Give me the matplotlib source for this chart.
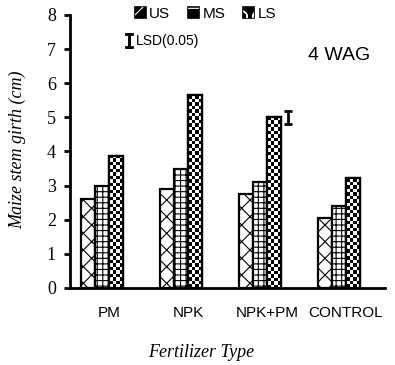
import numpy as np
import matplotlib
matplotlib.use('Agg')
import matplotlib.pyplot as plt
import matplotlib.patches as mpatches
from matplotlib.lines import Line2D

# Daten
categories = ['PM', 'NPK', 'NPK+PM', 'CONTROL']
series = ['US', 'MS', 'LS']
us = [2.6, 2.9, 2.75, 2.05]
ms = [3.0, 3.5, 3.1, 2.4]
ls = [3.87, 5.65, 5.0, 3.22]
lsd = 0.4          # LSD(0.05), an NPK+PM gezeigt
lsd_group = 2

plt.rcParams['hatch.linewidth'] = 0.8

fig = plt.figure(figsize=(3.95, 3.65), dpi=100)
ax = fig.add_axes([0.177, 0.211, 0.798, 0.748])

x = np.arange(len(categories))
w = 0.178
offsets = [-1.5 * w, -0.5 * w, 0.5 * w]

# US und MS mit Schraffur
bars_us = ax.bar(x + offsets[0], us, w, facecolor='white', edgecolor='black',
                 linewidth=1.6, hatch='xx', zorder=3)
bars_ms = ax.bar(x + offsets[1], ms, w, facecolor='white', edgecolor='black',
                 linewidth=1.6, hatch='+++', zorder=3)
bars_ls = ax.bar(x + offsets[2], ls, w, facecolor='white', edgecolor='black',
                 linewidth=1.6, zorder=3)

ax.set_xlim(-0.5, 3.5)
ax.set_ylim(0, 8)

# Schachbrettmuster fuer LS
px_per_unit = (ax.transData.transform((0, 1))[1] - ax.transData.transform((0, 0))[1])
for b in bars_ls:
    x0 = b.get_x()
    h = b.get_height()
    n_cols = 4
    n_rows = int(round(h * px_per_unit / 3.5))
    checker = (np.add.outer(np.arange(n_rows), np.arange(n_cols)) % 2).astype(float)
    ax.imshow(checker, cmap='gray', extent=[x0, x0 + w, 0, h], interpolation='nearest',
              aspect='auto', zorder=3.5, vmin=0, vmax=1)
    ax.add_patch(mpatches.Rectangle((x0, 0), w, h, facecolor='none', edgecolor='black',
                                    linewidth=1.6, zorder=4))

ax.set_xlim(-0.5, 3.5)
ax.set_ylim(0, 8)

# LSD-Balken
ax.errorbar(lsd_group + 1.5 * w, ls[lsd_group], yerr=lsd / 2, fmt='none', ecolor='black',
            elinewidth=2, capsize=3, capthick=2, zorder=5)

# Achsen
for s in ['top', 'right']:
    ax.spines[s].set_visible(False)
for s in ['left', 'bottom']:
    ax.spines[s].set_linewidth(2)
ax.set_yticks(range(0, 9))
ax.set_yticklabels([str(i) for i in range(0, 9)], family='Liberation Serif', fontsize=13)
ax.tick_params(axis='y', direction='out', length=4, width=2, pad=6)
ax.set_xticks(x)
ax.set_xticklabels(categories, family='Liberation Sans', fontsize=11)
ax.tick_params(axis='x', length=0, pad=13)

fig.text(0.045, 0.59, 'Maize stem girth (cm)', rotation=90, ha='center', va='center',
         family='Liberation Serif', style='italic', fontsize=13)
fig.text(0.51, 0.035, 'Fertilizer Type', ha='center', va='center',
         family='Liberation Serif', style='italic', fontsize=13)

# Legende: schwarze Kaestchen mit weissem Muster
def icon(h):
    base = mpatches.Patch(facecolor='black', edgecolor='black', linewidth=1.2)
    top = mpatches.Patch(facecolor='none', edgecolor='white', hatch=h, linewidth=0)
    return (base, top)

handles = [icon('//'), icon('-'), icon('O')]
fig.legend(handles, series, loc='center', bbox_to_anchor=(0.52, 0.963), ncol=3,
           frameon=False, handlelength=0.75, handleheight=0.75, handletextpad=0.2,
           columnspacing=1.15, prop={'family': 'Liberation Sans', 'size': 11})

fig.add_artist(Line2D([0.3265, 0.3265], [0.872, 0.906], color='black', lw=2.2))
fig.add_artist(Line2D([0.319, 0.334], [0.872, 0.872], color='black', lw=2))
fig.add_artist(Line2D([0.319, 0.334], [0.906, 0.906], color='black', lw=2))
fig.text(0.343, 0.889, 'LSD(0.05)', ha='left', va='center', family='Liberation Sans', fontsize=10)

fig.text(0.78, 0.848, '4 WAG', ha='left', va='center', family='Liberation Sans', fontsize=14)

plt.savefig('out.png', dpi=100)
